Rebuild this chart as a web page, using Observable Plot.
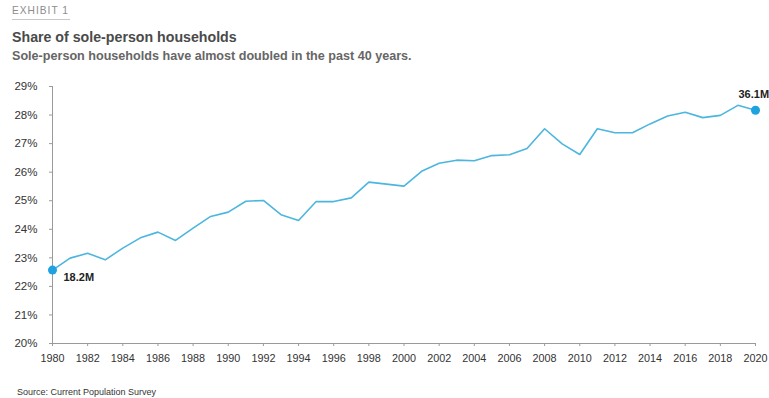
<!DOCTYPE html>
<html>
<head>
<meta charset="utf-8">
<script src="https://cdn.jsdelivr.net/npm/d3@7"></script>
<script src="https://cdn.jsdelivr.net/npm/@observablehq/plot@0.6"></script>
<style>
  body { margin: 0; background: #fff; font-family: "Liberation Sans", Arial, sans-serif; }
  #wrap { position: relative; width: 769px; height: 398px; overflow: hidden; }
  .t { position: absolute; left: 12px; white-space: nowrap; }
  #exhibit { top: 4px; font-size: 10.2px; line-height: 14px; color: #8c8c8c; letter-spacing: 1px; }
  #rule { position: absolute; left: 12px; top: 19px; width: 58px; height: 1px; background: #c8c8c8; }
  #title { top: 28px; font-size: 14.2px; line-height: 18px; font-weight: bold; color: #4a4a4a; }
  #subtitle { top: 48px; font-size: 12.6px; line-height: 16px; color: #666; font-weight: bold; }
  #source { top: 386px; left: 17px; font-size: 9px; line-height: 12px; color: #333; }
  #chart { position: absolute; left: 0; top: 70px; }
</style>
</head>
<body>
<div id="wrap">
  <div class="t" id="exhibit">EXHIBIT 1</div>
  <div id="rule"></div>
  <div class="t" id="title">Share of sole-person households</div>
  <div class="t" id="subtitle">Sole-person households have almost doubled in the past 40 years.</div>
  <div id="chart"></div>
  <div class="t" id="source">Source: Current Population Survey</div>
</div>
<script>
// Share of households made up of one person, by year (percent)
const years = [
  1980, 1981, 1982, 1983, 1984, 1985, 1986, 1987, 1988, 1989,
  1990, 1991, 1992, 1993, 1994, 1995, 1996, 1997, 1998, 1999,
  2000, 2001, 2002, 2003, 2004, 2005, 2006, 2007, 2008, 2009,
  2010, 2011, 2012, 2013, 2014, 2015, 2016, 2017, 2018, 2019, 2020
];
const shares = [
  22.57, 22.99, 23.16, 22.93, 23.34, 23.70, 23.90, 23.61, 24.04, 24.45,
  24.60, 24.98, 25.01, 24.51, 24.31, 24.97, 24.97, 25.10, 25.65, 25.58,
  25.51, 26.03, 26.31, 26.42, 26.40, 26.58, 26.61, 26.83, 27.52, 26.99,
  26.62, 27.52, 27.38, 27.38, 27.69, 27.97, 28.10, 27.91, 27.99, 28.34, 28.17
];

// Endpoint callouts: number of sole-person households
const calloutYears = [1980, 2020];
const calloutLabels = ["18.2M", "36.1M"];

// Axis ticks
const yearTicks = d3.range(1980, 2021, 2);
const shareTicks = [20, 21, 22, 23, 24, 25, 26, 27, 28, 29];

const data = years.map((year, i) => ({year, share: shares[i]}));
const callouts = calloutYears.map((year, i) => ({
  year,
  share: shares[years.indexOf(year)],
  label: calloutLabels[i]
}));

const axisColor = "#9a9a9a";
const lineColor = "#4cb6de";
const dotColor = "#1ea2e0";

const chart = Plot.plot({
  width: 769,
  height: 300,
  marginTop: 16,
  marginBottom: 27,
  marginLeft: 52,
  marginRight: 14,
  style: {
    fontFamily: "'Liberation Sans', Arial, sans-serif",
    fontSize: "10.5px",
    color: "#333",
    background: "transparent",
    overflow: "visible"
  },
  x: {domain: [1980, 2020]},
  y: {domain: [20, 29]},
  marks: [
    Plot.axisX({ticks: yearTicks, tickFormat: d => String(d), tickSize: 3, tickPadding: 8, stroke: axisColor, fill: "#333", fontSize: 10.8, label: null}),
    Plot.axisY({ticks: shareTicks, tickFormat: d => d + "%", tickSize: 3, tickPadding: 12, stroke: axisColor, fill: "#333", fontSize: 11.5, label: null}),
    Plot.ruleY([20], {stroke: axisColor}),
    Plot.ruleX([1980], {stroke: axisColor}),
    Plot.line(data, {x: "year", y: "share", stroke: lineColor, strokeWidth: 1.6}),
    Plot.dot(callouts, {x: "year", y: "share", r: 4.5, fill: dotColor, stroke: "none"}),
    Plot.text(callouts.slice(0, 1), {x: "year", y: "share", text: "label", textAnchor: "start", dx: 11, dy: 7, fontWeight: "bold", fontSize: 11, fill: "#222"}),
    Plot.text(callouts.slice(1), {x: "year", y: "share", text: "label", textAnchor: "start", dx: -17, dy: -16, fontWeight: "bold", fontSize: 11, fill: "#222"})
  ]
});

document.getElementById("chart").appendChild(chart);
</script>
</body>
</html>
